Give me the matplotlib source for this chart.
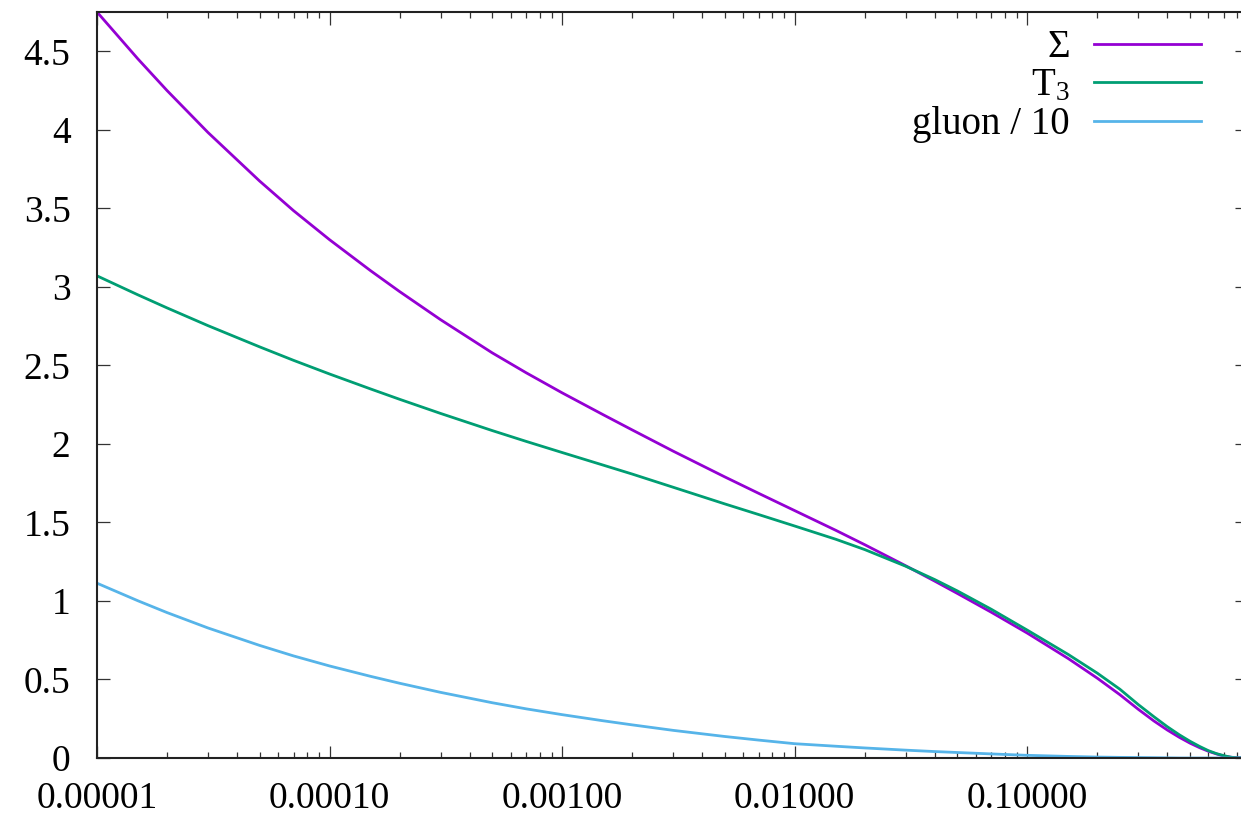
import matplotlib
matplotlib.use("Agg")
import matplotlib.pyplot as plt
from matplotlib.ticker import FormatStrFormatter, LogLocator, MultipleLocator, NullFormatter

plt.rcParams['font.family'] = ['Liberation Serif', 'DejaVu Serif']
plt.rcParams['mathtext.fontset'] = 'custom'
plt.rcParams['mathtext.rm'] = 'Liberation Serif'
plt.rcParams['mathtext.it'] = 'Liberation Serif:italic'

# x grid (log) and curves
x = [1e-5, 1.5e-5, 2e-5, 3e-5, 5e-5, 7e-5, 1e-4, 1.5e-4, 2e-4, 3e-4, 5e-4, 7e-4,
     1e-3, 1.5e-3, 2e-3, 3e-3, 5e-3, 7e-3, 1e-2, 1.5e-2, 2e-2, 3e-2, 4e-2, 5e-2, 7e-2,
     0.1, 0.15, 0.2, 0.25, 0.3, 0.35, 0.4, 0.45, 0.5, 0.55, 0.6, 0.65, 0.7, 0.75, 0.8, 0.88]
sigma = [4.75, 4.451, 4.25, 3.983, 3.674, 3.485, 3.30, 3.103, 2.97, 2.791, 2.58, 2.453,
         2.325, 2.186, 2.089, 1.954, 1.79, 1.685, 1.575, 1.45, 1.358, 1.224, 1.126, 1.048, 0.928,
         0.795, 0.633, 0.508, 0.403, 0.31, 0.236, 0.178, 0.132, 0.095, 0.066, 0.043, 0.026, 0.012, 0.005, 0.001, 0.0]
t3 = [3.07, 2.949, 2.866, 2.753, 2.618, 2.532, 2.445, 2.35, 2.284, 2.194, 2.085, 2.016,
      1.945, 1.865, 1.808, 1.724, 1.618, 1.55, 1.477, 1.393, 1.327, 1.221, 1.136, 1.064, 0.947,
      0.814, 0.659, 0.54, 0.438, 0.34, 0.263, 0.199, 0.148, 0.107, 0.074, 0.047, 0.028, 0.015, 0.005, 0.001, 0.0]
gluon10 = [1.113, 1.001, 0.926, 0.828, 0.717, 0.65, 0.586, 0.52, 0.476, 0.418, 0.352, 0.313,
           0.276, 0.237, 0.211, 0.176, 0.137, 0.114, 0.091, 0.075, 0.064, 0.05, 0.041, 0.035, 0.026,
           0.017, 0.01, 0.006, 0.004, 0.003, 0.002, 0.001, 0.0, 0.0, 0.0, 0.0, 0.0, 0.0, 0.0, 0.0, 0.0]

labels = [r'$\Sigma$', r'$\mathrm{T}_3$', 'gluon / 10']
colors = ['#9400d3', '#009e73', '#56b4e9']

fig = plt.figure(figsize=(12.41, 8.18), dpi=100)
ax = fig.add_axes([97 / 1241, 60 / 818, 1150 / 1241, 746 / 818])

for y, lab, c in zip([sigma, t3, gluon10], labels, colors):
    ax.plot(x, y, color=c, lw=2.0, label=lab)

ax.set_xscale('log')
ax.set_xlim(1e-5, 0.88)
ax.set_ylim(0, 4.75)

ax.xaxis.set_major_locator(LogLocator(base=10, numticks=10))
ax.xaxis.set_minor_locator(LogLocator(base=10, subs=range(2, 10), numticks=10))
ax.xaxis.set_major_formatter(FormatStrFormatter('%.5f'))
ax.xaxis.set_minor_formatter(NullFormatter())
ax.yaxis.set_major_locator(MultipleLocator(0.5))
ax.yaxis.set_major_formatter(FormatStrFormatter('%g'))

ax.tick_params(which='both', direction='in', top=True, right=True,
               labelsize=27, color='#333333', width=0.9)
ax.tick_params(axis='x', which='major', length=9, pad=17)
ax.tick_params(axis='x', which='minor', length=4.5)
ax.tick_params(axis='y', which='major', length=9, pad=19)
for s in ax.spines.values():
    s.set_linewidth(1.5)
    s.set_color('#222222')

ax.legend(loc='upper right', bbox_to_anchor=(0.96, 0.977), frameon=False,
          markerfirst=False, fontsize=28, handlelength=2.75, handletextpad=0.64,
          labelspacing=0.04, borderaxespad=0.0, borderpad=0.0)

fig.savefig('out.png', dpi=100)
